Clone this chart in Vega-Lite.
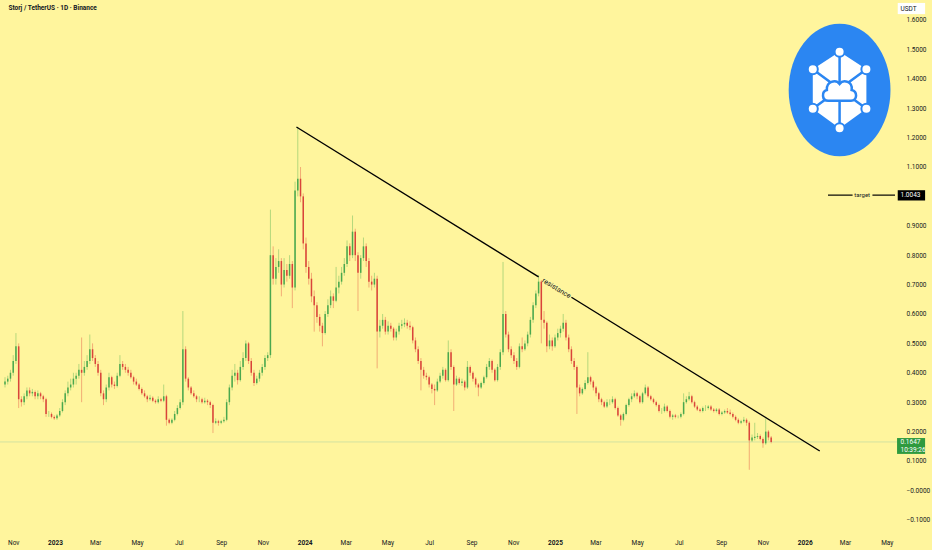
{
  "$schema": "https://vega.github.io/schema/vega-lite/v6.json",
  "width": 900,
  "height": 533,
  "autosize": {"type": "none"},
  "padding": {"left": 0, "top": 0, "right": 32, "bottom": 17},
  "background": "#fff59d",
  "config": {"view": {"stroke": null}, "font": "Roboto", "axis": {"labelOverlap": false}},
  "datasets": {
    "candles": [
      {"d":"2022-10-20","o":0.36,"h":0.385,"l":0.35,"c":0.37},
      {"d":"2022-10-24","o":0.37,"h":0.39,"l":0.36,"c":0.38},
      {"d":"2022-10-28","o":0.38,"h":0.41,"l":0.37,"c":0.40},
      {"d":"2022-11-01","o":0.40,"h":0.46,"l":0.39,"c":0.44},
      {"d":"2022-11-05","o":0.44,"h":0.535,"l":0.43,"c":0.49},
      {"d":"2022-11-09","o":0.49,"h":0.50,"l":0.28,"c":0.31},
      {"d":"2022-11-13","o":0.31,"h":0.32,"l":0.285,"c":0.30},
      {"d":"2022-11-17","o":0.30,"h":0.33,"l":0.29,"c":0.32},
      {"d":"2022-11-21","o":0.32,"h":0.35,"l":0.31,"c":0.34},
      {"d":"2022-11-25","o":0.34,"h":0.35,"l":0.32,"c":0.33},
      {"d":"2022-11-29","o":0.33,"h":0.345,"l":0.32,"c":0.335},
      {"d":"2022-12-03","o":0.335,"h":0.34,"l":0.31,"c":0.32},
      {"d":"2022-12-07","o":0.32,"h":0.34,"l":0.31,"c":0.33},
      {"d":"2022-12-11","o":0.33,"h":0.335,"l":0.31,"c":0.32},
      {"d":"2022-12-15","o":0.32,"h":0.325,"l":0.30,"c":0.31},
      {"d":"2022-12-19","o":0.31,"h":0.315,"l":0.25,"c":0.26},
      {"d":"2022-12-23","o":0.26,"h":0.27,"l":0.25,"c":0.26},
      {"d":"2022-12-27","o":0.26,"h":0.265,"l":0.245,"c":0.25},
      {"d":"2022-12-31","o":0.25,"h":0.255,"l":0.24,"c":0.245},
      {"d":"2023-01-04","o":0.245,"h":0.26,"l":0.24,"c":0.255},
      {"d":"2023-01-08","o":0.255,"h":0.28,"l":0.25,"c":0.27},
      {"d":"2023-01-12","o":0.27,"h":0.31,"l":0.265,"c":0.30},
      {"d":"2023-01-16","o":0.30,"h":0.34,"l":0.29,"c":0.33},
      {"d":"2023-01-20","o":0.33,"h":0.37,"l":0.32,"c":0.35},
      {"d":"2023-01-24","o":0.35,"h":0.38,"l":0.34,"c":0.36},
      {"d":"2023-01-28","o":0.36,"h":0.40,"l":0.35,"c":0.38},
      {"d":"2023-02-01","o":0.38,"h":0.40,"l":0.36,"c":0.39},
      {"d":"2023-02-05","o":0.39,"h":0.43,"l":0.38,"c":0.41},
      {"d":"2023-02-09","o":0.41,"h":0.52,"l":0.30,"c":0.40},
      {"d":"2023-02-13","o":0.40,"h":0.44,"l":0.39,"c":0.42},
      {"d":"2023-02-17","o":0.42,"h":0.46,"l":0.41,"c":0.44},
      {"d":"2023-02-21","o":0.44,"h":0.53,"l":0.43,"c":0.48},
      {"d":"2023-02-25","o":0.48,"h":0.50,"l":0.44,"c":0.45},
      {"d":"2023-03-01","o":0.45,"h":0.46,"l":0.42,"c":0.43},
      {"d":"2023-03-05","o":0.43,"h":0.44,"l":0.39,"c":0.40},
      {"d":"2023-03-09","o":0.40,"h":0.41,"l":0.32,"c":0.33},
      {"d":"2023-03-13","o":0.33,"h":0.34,"l":0.29,"c":0.31},
      {"d":"2023-03-17","o":0.31,"h":0.36,"l":0.30,"c":0.35},
      {"d":"2023-03-21","o":0.35,"h":0.40,"l":0.34,"c":0.385},
      {"d":"2023-03-25","o":0.385,"h":0.39,"l":0.35,"c":0.36},
      {"d":"2023-03-29","o":0.36,"h":0.37,"l":0.345,"c":0.355},
      {"d":"2023-04-02","o":0.355,"h":0.40,"l":0.35,"c":0.39},
      {"d":"2023-04-06","o":0.39,"h":0.46,"l":0.385,"c":0.43},
      {"d":"2023-04-10","o":0.43,"h":0.44,"l":0.41,"c":0.42},
      {"d":"2023-04-14","o":0.42,"h":0.43,"l":0.40,"c":0.41},
      {"d":"2023-04-18","o":0.41,"h":0.42,"l":0.39,"c":0.40},
      {"d":"2023-04-22","o":0.40,"h":0.41,"l":0.38,"c":0.385},
      {"d":"2023-04-26","o":0.385,"h":0.39,"l":0.36,"c":0.37},
      {"d":"2023-04-30","o":0.37,"h":0.38,"l":0.355,"c":0.36},
      {"d":"2023-05-04","o":0.36,"h":0.365,"l":0.34,"c":0.345},
      {"d":"2023-05-08","o":0.345,"h":0.35,"l":0.325,"c":0.33},
      {"d":"2023-05-12","o":0.33,"h":0.34,"l":0.315,"c":0.32},
      {"d":"2023-05-16","o":0.32,"h":0.325,"l":0.30,"c":0.31},
      {"d":"2023-05-20","o":0.31,"h":0.325,"l":0.305,"c":0.315},
      {"d":"2023-05-24","o":0.315,"h":0.32,"l":0.30,"c":0.305},
      {"d":"2023-05-28","o":0.305,"h":0.31,"l":0.295,"c":0.30},
      {"d":"2023-06-01","o":0.30,"h":0.32,"l":0.295,"c":0.31},
      {"d":"2023-06-05","o":0.31,"h":0.315,"l":0.30,"c":0.305},
      {"d":"2023-06-09","o":0.305,"h":0.36,"l":0.30,"c":0.32},
      {"d":"2023-06-13","o":0.32,"h":0.325,"l":0.22,"c":0.24},
      {"d":"2023-06-17","o":0.24,"h":0.245,"l":0.225,"c":0.23},
      {"d":"2023-06-21","o":0.23,"h":0.245,"l":0.225,"c":0.24},
      {"d":"2023-06-25","o":0.24,"h":0.27,"l":0.235,"c":0.26},
      {"d":"2023-06-29","o":0.26,"h":0.29,"l":0.255,"c":0.28},
      {"d":"2023-07-03","o":0.28,"h":0.31,"l":0.275,"c":0.30},
      {"d":"2023-07-07","o":0.30,"h":0.61,"l":0.29,"c":0.48},
      {"d":"2023-07-11","o":0.48,"h":0.49,"l":0.37,"c":0.38},
      {"d":"2023-07-15","o":0.38,"h":0.385,"l":0.34,"c":0.35},
      {"d":"2023-07-19","o":0.35,"h":0.355,"l":0.325,"c":0.33},
      {"d":"2023-07-23","o":0.33,"h":0.34,"l":0.315,"c":0.32},
      {"d":"2023-07-27","o":0.32,"h":0.325,"l":0.30,"c":0.31},
      {"d":"2023-07-31","o":0.31,"h":0.32,"l":0.30,"c":0.31},
      {"d":"2023-08-04","o":0.31,"h":0.315,"l":0.295,"c":0.30},
      {"d":"2023-08-08","o":0.30,"h":0.315,"l":0.295,"c":0.305},
      {"d":"2023-08-12","o":0.305,"h":0.31,"l":0.29,"c":0.30},
      {"d":"2023-08-16","o":0.30,"h":0.305,"l":0.28,"c":0.29},
      {"d":"2023-08-20","o":0.29,"h":0.295,"l":0.195,"c":0.23},
      {"d":"2023-08-24","o":0.23,"h":0.245,"l":0.225,"c":0.235},
      {"d":"2023-08-28","o":0.235,"h":0.24,"l":0.22,"c":0.23},
      {"d":"2023-09-01","o":0.23,"h":0.24,"l":0.225,"c":0.235},
      {"d":"2023-09-05","o":0.235,"h":0.25,"l":0.23,"c":0.24},
      {"d":"2023-09-09","o":0.24,"h":0.31,"l":0.235,"c":0.30},
      {"d":"2023-09-13","o":0.30,"h":0.36,"l":0.29,"c":0.35},
      {"d":"2023-09-17","o":0.35,"h":0.41,"l":0.34,"c":0.39},
      {"d":"2023-09-21","o":0.39,"h":0.43,"l":0.37,"c":0.40},
      {"d":"2023-09-25","o":0.40,"h":0.41,"l":0.36,"c":0.375},
      {"d":"2023-09-29","o":0.375,"h":0.44,"l":0.37,"c":0.42},
      {"d":"2023-10-03","o":0.42,"h":0.47,"l":0.41,"c":0.45},
      {"d":"2023-10-07","o":0.45,"h":0.51,"l":0.44,"c":0.50},
      {"d":"2023-10-11","o":0.50,"h":0.505,"l":0.43,"c":0.44},
      {"d":"2023-10-15","o":0.44,"h":0.45,"l":0.39,"c":0.40},
      {"d":"2023-10-19","o":0.40,"h":0.41,"l":0.355,"c":0.365},
      {"d":"2023-10-23","o":0.365,"h":0.39,"l":0.36,"c":0.38},
      {"d":"2023-10-27","o":0.38,"h":0.41,"l":0.37,"c":0.40},
      {"d":"2023-10-31","o":0.40,"h":0.43,"l":0.39,"c":0.42},
      {"d":"2023-11-04","o":0.42,"h":0.46,"l":0.41,"c":0.45},
      {"d":"2023-11-08","o":0.45,"h":0.47,"l":0.44,"c":0.46},
      {"d":"2023-11-12","o":0.46,"h":0.955,"l":0.45,"c":0.80},
      {"d":"2023-11-16","o":0.80,"h":0.83,"l":0.70,"c":0.72},
      {"d":"2023-11-20","o":0.72,"h":0.79,"l":0.70,"c":0.76},
      {"d":"2023-11-24","o":0.76,"h":0.82,"l":0.74,"c":0.78},
      {"d":"2023-11-28","o":0.78,"h":0.79,"l":0.66,"c":0.70},
      {"d":"2023-12-02","o":0.70,"h":0.79,"l":0.69,"c":0.75},
      {"d":"2023-12-06","o":0.75,"h":0.77,"l":0.71,"c":0.73},
      {"d":"2023-12-10","o":0.73,"h":0.80,"l":0.72,"c":0.77},
      {"d":"2023-12-14","o":0.77,"h":0.78,"l":0.62,"c":0.69},
      {"d":"2023-12-18","o":0.69,"h":1.05,"l":0.68,"c":1.02},
      {"d":"2023-12-22","o":1.02,"h":1.236,"l":1.00,"c":1.06},
      {"d":"2023-12-26","o":1.06,"h":1.10,"l":0.98,"c":1.00},
      {"d":"2023-12-30","o":1.00,"h":1.01,"l":0.82,"c":0.84},
      {"d":"2024-01-03","o":0.84,"h":0.86,"l":0.74,"c":0.76},
      {"d":"2024-01-07","o":0.76,"h":0.78,"l":0.70,"c":0.72},
      {"d":"2024-01-11","o":0.72,"h":0.74,"l":0.64,"c":0.66},
      {"d":"2024-01-15","o":0.66,"h":0.68,"l":0.54,"c":0.63},
      {"d":"2024-01-19","o":0.63,"h":0.64,"l":0.57,"c":0.59},
      {"d":"2024-01-23","o":0.59,"h":0.60,"l":0.54,"c":0.56},
      {"d":"2024-01-27","o":0.56,"h":0.57,"l":0.49,"c":0.535},
      {"d":"2024-01-31","o":0.535,"h":0.61,"l":0.53,"c":0.60},
      {"d":"2024-02-04","o":0.60,"h":0.65,"l":0.59,"c":0.63},
      {"d":"2024-02-08","o":0.63,"h":0.68,"l":0.62,"c":0.66},
      {"d":"2024-02-12","o":0.66,"h":0.67,"l":0.62,"c":0.645},
      {"d":"2024-02-16","o":0.645,"h":0.76,"l":0.64,"c":0.69},
      {"d":"2024-02-20","o":0.69,"h":0.73,"l":0.67,"c":0.71},
      {"d":"2024-02-24","o":0.71,"h":0.76,"l":0.70,"c":0.74},
      {"d":"2024-02-28","o":0.74,"h":0.79,"l":0.73,"c":0.77},
      {"d":"2024-03-03","o":0.77,"h":0.85,"l":0.76,"c":0.83},
      {"d":"2024-03-07","o":0.83,"h":0.84,"l":0.78,"c":0.80},
      {"d":"2024-03-11","o":0.80,"h":0.935,"l":0.79,"c":0.88},
      {"d":"2024-03-15","o":0.88,"h":0.89,"l":0.78,"c":0.80},
      {"d":"2024-03-19","o":0.80,"h":0.81,"l":0.61,"c":0.74},
      {"d":"2024-03-23","o":0.74,"h":0.80,"l":0.72,"c":0.79},
      {"d":"2024-03-27","o":0.79,"h":0.86,"l":0.78,"c":0.83},
      {"d":"2024-03-31","o":0.83,"h":0.84,"l":0.76,"c":0.78},
      {"d":"2024-04-04","o":0.78,"h":0.79,"l":0.69,"c":0.71},
      {"d":"2024-04-08","o":0.71,"h":0.73,"l":0.68,"c":0.70},
      {"d":"2024-04-12","o":0.70,"h":0.74,"l":0.69,"c":0.72},
      {"d":"2024-04-16","o":0.72,"h":0.73,"l":0.415,"c":0.54},
      {"d":"2024-04-20","o":0.54,"h":0.58,"l":0.52,"c":0.56},
      {"d":"2024-04-24","o":0.56,"h":0.60,"l":0.55,"c":0.58},
      {"d":"2024-04-28","o":0.58,"h":0.59,"l":0.53,"c":0.54},
      {"d":"2024-05-02","o":0.54,"h":0.575,"l":0.53,"c":0.56},
      {"d":"2024-05-06","o":0.56,"h":0.57,"l":0.54,"c":0.55},
      {"d":"2024-05-10","o":0.55,"h":0.555,"l":0.51,"c":0.52},
      {"d":"2024-05-14","o":0.52,"h":0.55,"l":0.51,"c":0.54},
      {"d":"2024-05-18","o":0.54,"h":0.57,"l":0.53,"c":0.56},
      {"d":"2024-05-22","o":0.56,"h":0.58,"l":0.55,"c":0.565},
      {"d":"2024-05-26","o":0.565,"h":0.585,"l":0.555,"c":0.57},
      {"d":"2024-05-30","o":0.57,"h":0.58,"l":0.55,"c":0.56},
      {"d":"2024-06-03","o":0.56,"h":0.575,"l":0.545,"c":0.555},
      {"d":"2024-06-07","o":0.555,"h":0.56,"l":0.50,"c":0.51},
      {"d":"2024-06-11","o":0.51,"h":0.52,"l":0.47,"c":0.48},
      {"d":"2024-06-15","o":0.48,"h":0.49,"l":0.43,"c":0.44},
      {"d":"2024-06-19","o":0.44,"h":0.45,"l":0.34,"c":0.41},
      {"d":"2024-06-23","o":0.41,"h":0.42,"l":0.38,"c":0.39},
      {"d":"2024-06-27","o":0.39,"h":0.40,"l":0.375,"c":0.385},
      {"d":"2024-07-01","o":0.385,"h":0.39,"l":0.35,"c":0.36},
      {"d":"2024-07-05","o":0.36,"h":0.365,"l":0.33,"c":0.345},
      {"d":"2024-07-09","o":0.345,"h":0.36,"l":0.29,"c":0.34},
      {"d":"2024-07-13","o":0.34,"h":0.38,"l":0.335,"c":0.37},
      {"d":"2024-07-17","o":0.37,"h":0.40,"l":0.365,"c":0.39},
      {"d":"2024-07-21","o":0.39,"h":0.42,"l":0.38,"c":0.41},
      {"d":"2024-07-25","o":0.41,"h":0.415,"l":0.37,"c":0.375},
      {"d":"2024-07-29","o":0.375,"h":0.51,"l":0.37,"c":0.47},
      {"d":"2024-08-02","o":0.47,"h":0.48,"l":0.41,"c":0.42},
      {"d":"2024-08-06","o":0.42,"h":0.425,"l":0.27,"c":0.36},
      {"d":"2024-08-10","o":0.36,"h":0.39,"l":0.355,"c":0.38},
      {"d":"2024-08-14","o":0.38,"h":0.385,"l":0.36,"c":0.365},
      {"d":"2024-08-18","o":0.365,"h":0.38,"l":0.355,"c":0.37},
      {"d":"2024-08-22","o":0.37,"h":0.375,"l":0.34,"c":0.35},
      {"d":"2024-08-26","o":0.35,"h":0.44,"l":0.345,"c":0.42},
      {"d":"2024-08-30","o":0.42,"h":0.425,"l":0.39,"c":0.40},
      {"d":"2024-09-03","o":0.40,"h":0.405,"l":0.37,"c":0.38},
      {"d":"2024-09-07","o":0.38,"h":0.385,"l":0.35,"c":0.36},
      {"d":"2024-09-11","o":0.36,"h":0.365,"l":0.32,"c":0.35},
      {"d":"2024-09-15","o":0.35,"h":0.37,"l":0.345,"c":0.365},
      {"d":"2024-09-19","o":0.365,"h":0.39,"l":0.36,"c":0.385},
      {"d":"2024-09-23","o":0.385,"h":0.43,"l":0.38,"c":0.42},
      {"d":"2024-09-27","o":0.42,"h":0.45,"l":0.41,"c":0.44},
      {"d":"2024-10-01","o":0.44,"h":0.445,"l":0.40,"c":0.41},
      {"d":"2024-10-05","o":0.41,"h":0.415,"l":0.37,"c":0.375},
      {"d":"2024-10-09","o":0.375,"h":0.43,"l":0.37,"c":0.42},
      {"d":"2024-10-13","o":0.42,"h":0.48,"l":0.41,"c":0.47},
      {"d":"2024-10-17","o":0.47,"h":0.777,"l":0.46,"c":0.60},
      {"d":"2024-10-21","o":0.60,"h":0.61,"l":0.52,"c":0.53},
      {"d":"2024-10-25","o":0.53,"h":0.54,"l":0.47,"c":0.48},
      {"d":"2024-10-29","o":0.48,"h":0.49,"l":0.45,"c":0.46},
      {"d":"2024-11-02","o":0.46,"h":0.47,"l":0.43,"c":0.44},
      {"d":"2024-11-06","o":0.44,"h":0.45,"l":0.41,"c":0.42},
      {"d":"2024-11-10","o":0.42,"h":0.50,"l":0.415,"c":0.49},
      {"d":"2024-11-14","o":0.49,"h":0.52,"l":0.47,"c":0.48},
      {"d":"2024-11-18","o":0.48,"h":0.51,"l":0.475,"c":0.50},
      {"d":"2024-11-22","o":0.50,"h":0.54,"l":0.49,"c":0.53},
      {"d":"2024-11-26","o":0.53,"h":0.59,"l":0.52,"c":0.58},
      {"d":"2024-11-30","o":0.58,"h":0.64,"l":0.57,"c":0.63},
      {"d":"2024-12-04","o":0.63,"h":0.68,"l":0.62,"c":0.67},
      {"d":"2024-12-08","o":0.67,"h":0.733,"l":0.66,"c":0.71},
      {"d":"2024-12-12","o":0.71,"h":0.715,"l":0.50,"c":0.58},
      {"d":"2024-12-16","o":0.58,"h":0.61,"l":0.55,"c":0.57},
      {"d":"2024-12-20","o":0.57,"h":0.575,"l":0.47,"c":0.49},
      {"d":"2024-12-24","o":0.49,"h":0.53,"l":0.48,"c":0.51},
      {"d":"2024-12-28","o":0.51,"h":0.52,"l":0.475,"c":0.49},
      {"d":"2025-01-01","o":0.49,"h":0.53,"l":0.485,"c":0.52},
      {"d":"2025-01-05","o":0.52,"h":0.55,"l":0.51,"c":0.535},
      {"d":"2025-01-09","o":0.535,"h":0.56,"l":0.52,"c":0.55},
      {"d":"2025-01-13","o":0.55,"h":0.60,"l":0.54,"c":0.57},
      {"d":"2025-01-17","o":0.57,"h":0.58,"l":0.51,"c":0.52},
      {"d":"2025-01-21","o":0.52,"h":0.53,"l":0.47,"c":0.48},
      {"d":"2025-01-25","o":0.48,"h":0.49,"l":0.43,"c":0.44},
      {"d":"2025-01-29","o":0.44,"h":0.45,"l":0.41,"c":0.42},
      {"d":"2025-02-02","o":0.42,"h":0.425,"l":0.26,"c":0.35},
      {"d":"2025-02-06","o":0.35,"h":0.36,"l":0.32,"c":0.33},
      {"d":"2025-02-10","o":0.33,"h":0.35,"l":0.325,"c":0.345},
      {"d":"2025-02-14","o":0.345,"h":0.375,"l":0.34,"c":0.365},
      {"d":"2025-02-18","o":0.365,"h":0.47,"l":0.36,"c":0.385},
      {"d":"2025-02-22","o":0.385,"h":0.39,"l":0.36,"c":0.37},
      {"d":"2025-02-26","o":0.37,"h":0.375,"l":0.34,"c":0.35},
      {"d":"2025-03-02","o":0.35,"h":0.355,"l":0.32,"c":0.33},
      {"d":"2025-03-06","o":0.33,"h":0.335,"l":0.30,"c":0.31},
      {"d":"2025-03-10","o":0.31,"h":0.315,"l":0.29,"c":0.30},
      {"d":"2025-03-14","o":0.30,"h":0.305,"l":0.28,"c":0.285},
      {"d":"2025-03-18","o":0.285,"h":0.31,"l":0.28,"c":0.30},
      {"d":"2025-03-22","o":0.30,"h":0.31,"l":0.29,"c":0.30},
      {"d":"2025-03-26","o":0.30,"h":0.32,"l":0.295,"c":0.31},
      {"d":"2025-03-30","o":0.31,"h":0.315,"l":0.275,"c":0.28},
      {"d":"2025-04-03","o":0.28,"h":0.285,"l":0.25,"c":0.255},
      {"d":"2025-04-07","o":0.255,"h":0.26,"l":0.22,"c":0.24},
      {"d":"2025-04-11","o":0.24,"h":0.265,"l":0.235,"c":0.26},
      {"d":"2025-04-15","o":0.26,"h":0.295,"l":0.255,"c":0.29},
      {"d":"2025-04-19","o":0.29,"h":0.315,"l":0.285,"c":0.31},
      {"d":"2025-04-23","o":0.31,"h":0.33,"l":0.30,"c":0.32},
      {"d":"2025-04-27","o":0.32,"h":0.34,"l":0.315,"c":0.33},
      {"d":"2025-05-01","o":0.33,"h":0.335,"l":0.31,"c":0.32},
      {"d":"2025-05-05","o":0.32,"h":0.325,"l":0.295,"c":0.30},
      {"d":"2025-05-09","o":0.30,"h":0.335,"l":0.295,"c":0.33},
      {"d":"2025-05-13","o":0.33,"h":0.36,"l":0.325,"c":0.35},
      {"d":"2025-05-17","o":0.35,"h":0.355,"l":0.315,"c":0.32},
      {"d":"2025-05-21","o":0.32,"h":0.325,"l":0.305,"c":0.31},
      {"d":"2025-05-25","o":0.31,"h":0.315,"l":0.295,"c":0.30},
      {"d":"2025-05-29","o":0.30,"h":0.305,"l":0.285,"c":0.29},
      {"d":"2025-06-02","o":0.29,"h":0.295,"l":0.265,"c":0.27},
      {"d":"2025-06-06","o":0.27,"h":0.28,"l":0.26,"c":0.27},
      {"d":"2025-06-10","o":0.27,"h":0.295,"l":0.265,"c":0.285},
      {"d":"2025-06-14","o":0.285,"h":0.29,"l":0.265,"c":0.27},
      {"d":"2025-06-18","o":0.27,"h":0.275,"l":0.245,"c":0.25},
      {"d":"2025-06-22","o":0.25,"h":0.26,"l":0.24,"c":0.255},
      {"d":"2025-06-26","o":0.255,"h":0.26,"l":0.245,"c":0.25},
      {"d":"2025-06-30","o":0.25,"h":0.255,"l":0.245,"c":0.25},
      {"d":"2025-07-04","o":0.25,"h":0.265,"l":0.245,"c":0.26},
      {"d":"2025-07-08","o":0.26,"h":0.33,"l":0.255,"c":0.30},
      {"d":"2025-07-12","o":0.30,"h":0.32,"l":0.295,"c":0.31},
      {"d":"2025-07-16","o":0.31,"h":0.335,"l":0.305,"c":0.32},
      {"d":"2025-07-20","o":0.32,"h":0.325,"l":0.295,"c":0.30},
      {"d":"2025-07-24","o":0.30,"h":0.305,"l":0.28,"c":0.285},
      {"d":"2025-07-28","o":0.285,"h":0.29,"l":0.27,"c":0.275},
      {"d":"2025-08-01","o":0.275,"h":0.28,"l":0.265,"c":0.27},
      {"d":"2025-08-05","o":0.27,"h":0.285,"l":0.265,"c":0.28},
      {"d":"2025-08-09","o":0.28,"h":0.29,"l":0.27,"c":0.28},
      {"d":"2025-08-13","o":0.28,"h":0.29,"l":0.275,"c":0.285},
      {"d":"2025-08-17","o":0.285,"h":0.29,"l":0.27,"c":0.275},
      {"d":"2025-08-21","o":0.275,"h":0.28,"l":0.265,"c":0.27},
      {"d":"2025-08-25","o":0.27,"h":0.28,"l":0.265,"c":0.275},
      {"d":"2025-08-29","o":0.275,"h":0.28,"l":0.255,"c":0.26},
      {"d":"2025-09-02","o":0.26,"h":0.27,"l":0.255,"c":0.265},
      {"d":"2025-09-06","o":0.265,"h":0.275,"l":0.26,"c":0.27},
      {"d":"2025-09-10","o":0.27,"h":0.28,"l":0.26,"c":0.265},
      {"d":"2025-09-14","o":0.265,"h":0.275,"l":0.255,"c":0.26},
      {"d":"2025-09-18","o":0.26,"h":0.265,"l":0.245,"c":0.25},
      {"d":"2025-09-22","o":0.25,"h":0.255,"l":0.235,"c":0.24},
      {"d":"2025-09-26","o":0.24,"h":0.245,"l":0.225,"c":0.23},
      {"d":"2025-09-30","o":0.23,"h":0.24,"l":0.225,"c":0.235},
      {"d":"2025-10-04","o":0.235,"h":0.25,"l":0.23,"c":0.24},
      {"d":"2025-10-08","o":0.24,"h":0.245,"l":0.22,"c":0.23},
      {"d":"2025-10-12","o":0.23,"h":0.235,"l":0.07,"c":0.17},
      {"d":"2025-10-16","o":0.17,"h":0.19,"l":0.165,"c":0.18},
      {"d":"2025-10-20","o":0.178,"h":0.23,"l":0.17,"c":0.182},
      {"d":"2025-10-24","o":0.182,"h":0.195,"l":0.175,"c":0.185},
      {"d":"2025-10-28","o":0.185,"h":0.19,"l":0.17,"c":0.175},
      {"d":"2025-11-01","o":0.175,"h":0.18,"l":0.145,"c":0.16},
      {"d":"2025-11-05","o":0.16,"h":0.245,"l":0.155,"c":0.20},
      {"d":"2025-11-09","o":0.20,"h":0.205,"l":0.17,"c":0.18},
      {"d":"2025-11-13","o":0.18,"h":0.185,"l":0.16,"c":0.1647}
    ],
    "trend": [
      {"seg": 1, "d": "2023-12-20", "v": 1.236},
      {"seg": 1, "d": "2024-12-08", "v": 0.726},
      {"seg": 2, "d": "2025-01-25", "v": 0.657},
      {"seg": 2, "d": "2026-01-23", "v": 0.134}
    ],
    "logo": [{"d": "2026-02-21", "v": 1.362}]
  },
  "layer": [
    {
      "data": {"values": [{"p": 0.1647}]},
      "mark": {"type": "rule", "color": "#d3e2a0", "strokeWidth": 1},
      "encoding": {
        "y": {
          "field": "p", "type": "quantitative", "title": null,
          "scale": {"domain": [-0.145, 1.668], "nice": false, "zero": false},
          "axis": {
            "orient": "right",
            "values": [-0.1, 0, 0.1, 0.2, 0.3, 0.4, 0.5, 0.6, 0.7, 0.8, 0.9, 1.1, 1.2, 1.3, 1.4, 1.5, 1.6],
            "tickCount": 30,
            "format": ".4f",
            "labelExpr": "datum.value == 0 ? '\u22120.0000' : datum.label",
            "labelFontSize": 6.5, "labelColor": "#131722", "labelPadding": 6, "labelOverlap": false, "labelFlush": false,
            "ticks": false, "tickSize": 0, "domain": false, "grid": false
          }
        }
      }
    },
    {
      "data": {"name": "candles"},
      "mark": {"type": "rule", "strokeWidth": 0.7, "opacity": 0.6},
      "encoding": {
        "x": {
          "field": "d", "type": "temporal", "title": null,
          "scale": {"type": "utc", "domain": [{"year": 2022, "month": 10, "date": 20, "utc": true}, {"year": 2026, "month": 5, "date": 13, "utc": true}]},
          "axis": {
            "tickCount": {"interval": "month", "step": 2},
            "labelExpr": "utcmonth(datum.value) == 0 ? utcFormat(datum.value, '%Y') : utcFormat(datum.value, '%b')",
            "labelFontWeight": {"condition": {"test": "utcmonth(datum.value) == 0", "value": "bold"}, "value": "normal"},
            "labelFontSize": 6.5, "labelColor": "#131722", "labelPadding": 6, "labelOverlap": false, "labelFlush": false, "labelAlign": "center",
            "ticks": false, "tickSize": 0, "domain": false, "grid": false
          }
        },
        "y": {"field": "l", "type": "quantitative", "title": null},
        "y2": {"field": "h"},
        "color": {"condition": {"test": "datum.c >= datum.o", "value": "#4caf50"}, "value": "#e0483c"}
      }
    },
    {
      "data": {"name": "candles"},
      "mark": {"type": "bar", "width": 1.5},
      "encoding": {
        "x": {"field": "d", "type": "temporal", "title": null},
        "y": {"field": "o", "type": "quantitative", "title": null},
        "y2": {"field": "c"},
        "color": {"condition": {"test": "datum.c >= datum.o", "value": "#4aa84e"}, "value": "#d9443a"}
      }
    },
    {
      "data": {"name": "trend"},
      "mark": {"type": "line", "color": "#000000", "strokeWidth": 1.4},
      "encoding": {
        "x": {"field": "d", "type": "temporal", "title": null},
        "y": {"field": "v", "type": "quantitative", "title": null},
        "detail": {"field": "seg"}
      }
    },
    {
      "data": {"values": [{"d": "2025-01-03", "v": 0.687}]},
      "mark": {"type": "text", "text": "resistance", "angle": 31.5, "fontSize": 7, "color": "#131722", "align": "center", "baseline": "middle"},
      "encoding": {
        "x": {"field": "d", "type": "temporal", "title": null},
        "y": {"field": "v", "type": "quantitative", "title": null}
      }
    },
    {
      "data": {"values": [{"a": "2026-02-04", "b": "2026-03-12", "v": 1.0043}, {"a": "2026-04-10", "b": "2026-05-13", "v": 1.0043}]},
      "mark": {"type": "rule", "color": "#000000", "strokeWidth": 1.2},
      "encoding": {
        "x": {"field": "a", "type": "temporal", "title": null},
        "x2": {"field": "b"},
        "y": {"field": "v", "type": "quantitative", "title": null}
      }
    },
    {
      "data": {"values": [{"d": "2026-03-26", "v": 1.0043}]},
      "mark": {"type": "text", "text": "target", "fontSize": 6, "color": "#131722", "align": "center", "baseline": "middle"},
      "encoding": {
        "x": {"field": "d", "type": "temporal", "title": null},
        "y": {"field": "v", "type": "quantitative", "title": null}
      }
    },
    {
      "data": {"values": [{"a": "2026-05-17", "b": "2026-06-26", "lo": 0.986, "hi": 1.021}]},
      "mark": {"type": "rect", "color": "#000000"},
      "encoding": {
        "x": {"field": "a", "type": "temporal", "title": null},
        "x2": {"field": "b"},
        "y": {"field": "lo", "type": "quantitative", "title": null},
        "y2": {"field": "hi"}
      }
    },
    {
      "data": {"values": [{"a": "2026-05-16", "b": "2026-06-26", "lo": 0.124, "hi": 0.178}]},
      "mark": {"type": "rect", "color": "#2f9a3f"},
      "encoding": {
        "x": {"field": "a", "type": "temporal", "title": null},
        "x2": {"field": "b"},
        "y": {"field": "lo", "type": "quantitative", "title": null},
        "y2": {"field": "hi"}
      }
    },
    {
      "data": {"values": [{"a": "2026-05-17", "b": "2026-06-26", "lo": 1.620, "hi": 1.658}]},
      "mark": {"type": "rect", "color": "#ffffff"},
      "encoding": {
        "x": {"field": "a", "type": "temporal", "title": null},
        "x2": {"field": "b"},
        "y": {"field": "lo", "type": "quantitative", "title": null},
        "y2": {"field": "hi"}
      }
    },
    {
      "data": {"values": [{"d": "2026-05-21", "v": 1.0043, "t": "1.0043"}, {"d": "2026-05-21", "v": 0.164, "t": "0.1647"}, {"d": "2026-05-21", "v": 0.137, "t": "10:39:26"}]},
      "mark": {"type": "text", "fontSize": 6.5, "color": "#ffffff", "align": "left", "baseline": "middle"},
      "encoding": {
        "x": {"field": "d", "type": "temporal", "title": null},
        "y": {"field": "v", "type": "quantitative", "title": null},
        "text": {"field": "t"}
      }
    },
    {
      "data": {"values": [{"d": "2026-05-21", "v": 1.639}]},
      "mark": {"type": "text", "text": "USDT", "fontSize": 6.5, "color": "#131722", "align": "left", "baseline": "middle"},
      "encoding": {
        "x": {"field": "d", "type": "temporal", "title": null},
        "y": {"field": "v", "type": "quantitative", "title": null}
      }
    },
    {
      "data": {"values": [{"d": "2022-10-25", "v": 1.641}]},
      "mark": {"type": "text", "text": "Storj / TetherUS · 1D · Binance", "fontSize": 6.5, "fontWeight": "bold", "color": "#131722", "align": "left", "baseline": "middle"},
      "encoding": {
        "x": {"field": "d", "type": "temporal", "title": null},
        "y": {"field": "v", "type": "quantitative", "title": null}
      }
    },
    {
      "data": {"name": "logo"},
      "mark": {"type": "point", "filled": true, "opacity": 1, "size": 17956, "color": "#2b86f2", "shape": "M-0.76,0 A0.76,0.99 0 1,0 0.76,0 A0.76,0.99 0 1,0 -0.76,0 Z"},
      "encoding": {
        "x": {"field": "d", "type": "temporal", "title": null},
        "y": {"field": "v", "type": "quantitative", "title": null}
      }
    },
    {
      "data": {"name": "logo"},
      "mark": {"type": "point", "filled": true, "opacity": 1, "size": 17956, "color": "#ffffff", "shape": "M0,-0.57 L0.40,-0.31 L0.40,0.28 L0,0.57 L-0.40,0.28 L-0.40,-0.31 Z"},
      "encoding": {
        "x": {"field": "d", "type": "temporal", "title": null},
        "y": {"field": "v", "type": "quantitative", "title": null}
      }
    },
    {
      "data": {"name": "logo"},
      "mark": {"type": "point", "filled": false, "opacity": 1, "size": 17956, "color": "#2b86f2", "strokeWidth": 2.5, "shape": "M0,-0.57 L0,0.57 M-0.40,-0.31 L0.40,0.28 M0.40,-0.31 L-0.40,0.28"},
      "encoding": {
        "x": {"field": "d", "type": "temporal", "title": null},
        "y": {"field": "v", "type": "quantitative", "title": null}
      }
    },
    {
      "data": {"name": "logo"},
      "mark": {"type": "point", "filled": true, "opacity": 1, "size": 17956, "fill": "#ffffff", "stroke": "#2b86f2", "strokeWidth": 2, "shape": "M-0.075,-0.57 A0.075,0.075 0 1,0 0.075,-0.57 A0.075,0.075 0 1,0 -0.075,-0.57 Z M-0.075,0.57 A0.075,0.075 0 1,0 0.075,0.57 A0.075,0.075 0 1,0 -0.075,0.57 Z M0.325,-0.31 A0.075,0.075 0 1,0 0.475,-0.31 A0.075,0.075 0 1,0 0.325,-0.31 Z M0.325,0.28 A0.075,0.075 0 1,0 0.475,0.28 A0.075,0.075 0 1,0 0.325,0.28 Z M-0.475,-0.31 A0.075,0.075 0 1,0 -0.325,-0.31 A0.075,0.075 0 1,0 -0.475,-0.31 Z M-0.475,0.28 A0.075,0.075 0 1,0 -0.325,0.28 A0.075,0.075 0 1,0 -0.475,0.28 Z"},
      "encoding": {
        "x": {"field": "d", "type": "temporal", "title": null},
        "y": {"field": "v", "type": "quantitative", "title": null}
      }
    },
    {
      "data": {"name": "logo"},
      "mark": {"type": "point", "filled": true, "opacity": 1, "size": 17956, "fill": "#ffffff", "stroke": "#2b86f2", "strokeWidth": 2.5, "shape": "M-0.17,0.16 C-0.27,0.16 -0.27,0.02 -0.19,0.0 C-0.2,-0.12 -0.06,-0.17 0.0,-0.09 C0.06,-0.17 0.2,-0.12 0.18,0.0 C0.27,0.02 0.27,0.16 0.17,0.16 Z"},
      "encoding": {
        "x": {"field": "d", "type": "temporal", "title": null},
        "y": {"field": "v", "type": "quantitative", "title": null}
      }
    }
  ]
}
